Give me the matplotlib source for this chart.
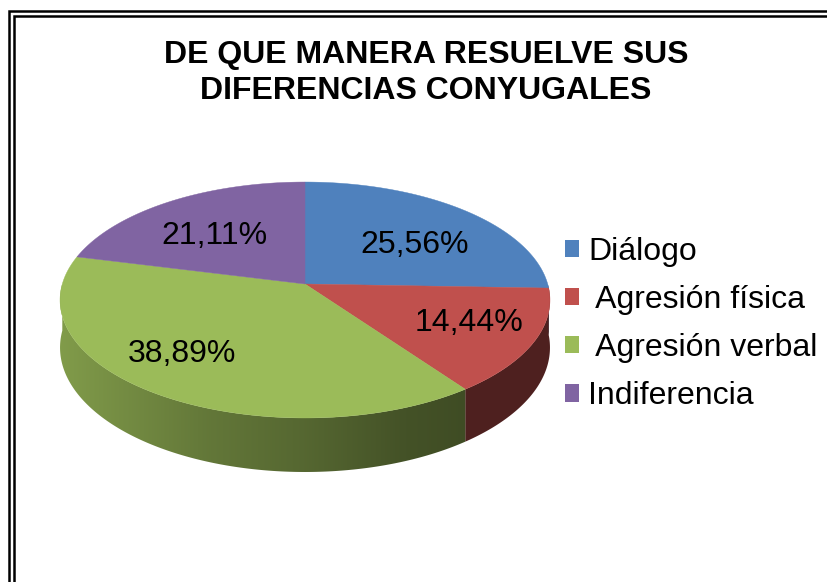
#!/usr/bin/env python3
# -*- coding: utf-8 -*-
"""
Pastel 3D (estilo Excel): DE QUE MANERA RESUELVE SUS DIFERENCIAS CONYUGALES
"""

import numpy as np
import matplotlib.pyplot as plt
from matplotlib.colors import to_rgb
from matplotlib.patches import Polygon, Patch

# datos
categorias = ['Diálogo', ' Agresión física', ' Agresión verbal', 'Indiferencia']
porcentajes = [25.56, 14.44, 38.89, 21.11]
etiquetas = ['25,56%', '14,44%', '38,89%', '21,11%']
colores = ['#4F81BD', '#C0504D', '#9BBB59', '#8064A2']
titulo = 'DE QUE MANERA RESUELVE SUS\nDIFERENCIAS CONYUGALES'

plt.rcParams['font.family'] = ['Liberation Sans', 'DejaVu Sans']

W, H = 827, 582
fig = plt.figure(figsize=(W / 100, H / 100), dpi=100)
ax = fig.add_axes([0, 0, 1, 1])

# geometria del pastel en pixeles, con perspectiva simple
cx, cy = 305, 284          # centro del circulo proyectado
R, B, k = 242.7, 115.8, 0.1356
D = 46.7                   # grosor del disco


def proyectar(r, t):
    d = 1 + k * r * np.sin(t)
    return cx + R * r * np.cos(t) / d, cy - B * r * np.sin(t) / d


def grosor(t):
    return D / (1 + k * np.sin(t))


def luz(x):
    # sombreado del costado: mas claro a la izquierda
    u = (x - 60) / 490
    return np.interp(u, [0, 0.3, 0.5, 0.7, 0.82, 1.0],
                     [0.83, 0.64, 0.55, 0.44, 0.41, 0.41])


frac = np.array(porcentajes) / sum(porcentajes)
limites = np.deg2rad(90 - 360 * np.concatenate([[0], np.cumsum(frac)]))

# costados visibles (frente: angulos entre -180 y 0)
for i, col in enumerate(colores):
    a0, a1 = limites[i], limites[i + 1]
    hi, lo = min(a0, 0.0), max(a1, -np.pi)
    if hi <= lo:
        continue
    t = np.linspace(hi, lo, 200)
    xs, ys = proyectar(1.0, t)
    yb = ys + grosor(t)
    pts = np.column_stack([np.r_[xs, xs[::-1]], np.r_[ys, yb[::-1]]])
    poly = Polygon(pts, closed=True, facecolor='none', edgecolor='none')
    ax.add_patch(poly)
    x0, x1 = xs.min() - 2, xs.max() + 2
    gx = np.linspace(x0, x1, 300)
    base = np.array(to_rgb(col))
    img = (luz(gx)[:, None] * base[None, :])[None, :, :]
    im = ax.imshow(img, extent=[x0, x1, yb.max() + 2, ys.min() - 2],
                   aspect='auto', interpolation='bilinear', zorder=1)
    im.set_clip_path(poly)

# cara superior
for i, col in enumerate(colores):
    t = np.linspace(limites[i], limites[i + 1], 200)
    xs, ys = proyectar(1.0, t)
    pts = np.vstack([[(cx, cy)], np.column_stack([xs, ys])])
    ax.add_patch(Polygon(pts, closed=True, facecolor=col, edgecolor=col,
                         linewidth=0.3, zorder=2))

# etiquetas de datos
ajuste = [(1, 11), (16, 2), (-26, 2), (2, 8)]
for i, txt in enumerate(etiquetas):
    m = (limites[i] + limites[i + 1]) / 2
    x, y = proyectar(0.66, m)
    ax.text(x + ajuste[i][0], y + ajuste[i][1], txt, ha='center', va='center',
            fontsize=23, color='black', zorder=3)

# titulo
ax.text(426, 73, titulo, ha='center', va='center', fontsize=23,
        fontweight='bold', linespacing=1.24)

# leyenda
manijas = [Patch(facecolor=c, edgecolor='none') for c in colores]
ax.legend(manijas, categorias, loc='center left',
          bbox_to_anchor=(565 / W, 1 - 324 / H), bbox_transform=fig.transFigure,
          frameon=False, fontsize=23, handlelength=0.45, handleheight=0.45,
          handletextpad=0.28, labelspacing=0.57, borderpad=0, borderaxespad=0)

# marco doble
for x, y in [(8.7, 10.7), (14.3, 16.3)]:
    ax.plot([x, x, W + 10], [H + 10, y, y], color='black', linewidth=1.8,
            solid_joinstyle='miter', zorder=4)

ax.set_xlim(0, W)
ax.set_ylim(H, 0)
ax.axis('off')

fig.savefig('out.png', dpi=100)
